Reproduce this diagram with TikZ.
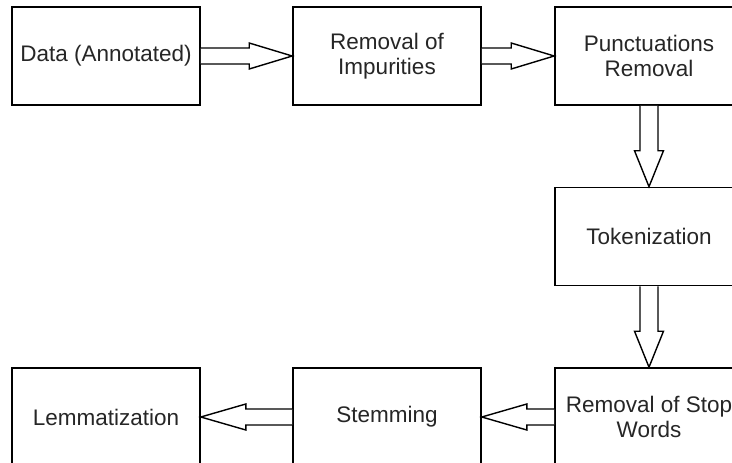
\documentclass[tikz,border=0pt]{standalone}
\usepackage{fontspec}
\setmainfont{Liberation Sans}
\usetikzlibrary{calc}
\begin{document}
\begin{tikzpicture}[x=1pt,y=-1pt,
  stepbox/.style={draw=black, line width=1.6pt, minimum width=188pt, minimum height=98pt,
    inner sep=0pt, align=center, text=black!85, font=\fontsize{22.5}{24.5}\selectfont},
  hollow/.style={draw=black, line width=1.4pt, line join=miter, fill=white}]
\useasboundingbox (0,0) rectangle (732,463);
\clip (0,0) rectangle (732,463);

% processing steps
\node[stepbox] (data)  at (106,56)    {Data (Annotated)};
\node[stepbox] (impur) at (387,56)    {Removal of\\Impurities};
\node[stepbox] (punct) at (649,56)    {Punctuations\\Removal};
\node[stepbox] (token) at (649,236.5) {Tokenization};
\node[stepbox] (stop)  at (649,417)   {Removal of Stop\\Words};
\node[stepbox] (stem)  at (387,417)   {Stemming};
\node[stepbox] (lemma) at (106,417)   {Lemmatization};

% hollow block arrows, left to right
\draw[hollow] ($(data.east)+(0,-8)$) -- ($(impur.west)+(-43,-8)$) -- ($(impur.west)+(-43,-13)$)
  -- (impur.west) -- ($(impur.west)+(-43,13)$) -- ($(impur.west)+(-43,8)$) -- ($(data.east)+(0,8)$);
\draw[hollow] ($(impur.east)+(0,-8)$) -- ($(punct.west)+(-43,-8)$) -- ($(punct.west)+(-43,-13)$)
  -- (punct.west) -- ($(punct.west)+(-43,13)$) -- ($(punct.west)+(-43,8)$) -- ($(impur.east)+(0,8)$);

% downward arrows
\draw[hollow] ($(punct.south)+(-9,0)$) -- ($(token.north)+(-9,-36)$) -- ($(token.north)+(-14.5,-36)$)
  -- (token.north) -- ($(token.north)+(14.5,-36)$) -- ($(token.north)+(9,-36)$) -- ($(punct.south)+(9,0)$);
\draw[hollow] ($(token.south)+(-9,0)$) -- ($(stop.north)+(-9,-36)$) -- ($(stop.north)+(-14.5,-36)$)
  -- (stop.north) -- ($(stop.north)+(14.5,-36)$) -- ($(stop.north)+(9,-36)$) -- ($(token.south)+(9,0)$);

% right to left along the bottom row
\draw[hollow] ($(stop.west)+(0,-8)$) -- ($(stem.east)+(45,-8)$) -- ($(stem.east)+(45,-13)$)
  -- (stem.east) -- ($(stem.east)+(45,13)$) -- ($(stem.east)+(45,8)$) -- ($(stop.west)+(0,8)$);
\draw[hollow] ($(stem.west)+(0,-8)$) -- ($(lemma.east)+(45,-8)$) -- ($(lemma.east)+(45,-13)$)
  -- (lemma.east) -- ($(lemma.east)+(45,13)$) -- ($(lemma.east)+(45,8)$) -- ($(stem.west)+(0,8)$);
\end{tikzpicture}
\end{document}
